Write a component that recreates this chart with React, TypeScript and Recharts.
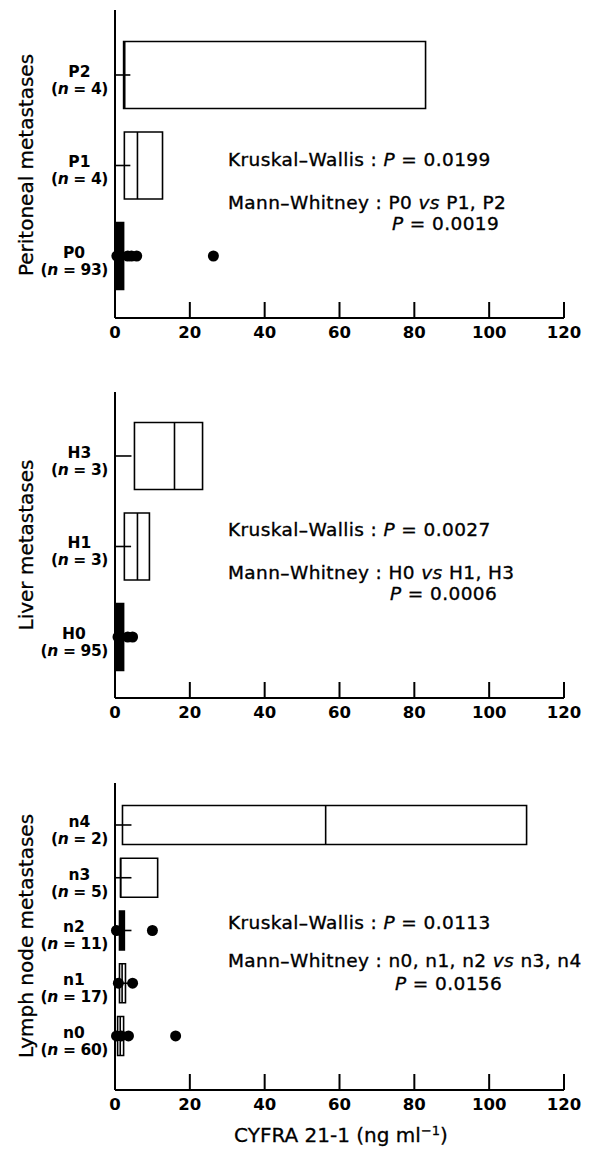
import { ComposedChart, ReferenceArea, ReferenceLine, Scatter, XAxis, YAxis } from "recharts";

const X_TICKS = [0, 20, 40, 60, 80, 100, 120];

// peritoneal metastases (bottom to top)
const P_GROUPS = ["P0", "P1", "P2"];
const P_COUNTS = [93, 4, 4];
const P_Q1 = [0, 2.5, 2.3];
const P_MEDIAN = [1.2, 6.0, 2.6];
const P_Q3 = [2.3, 12.7, 83.0];
const P_WHISKER = [4.2, 4.1, 4.1];
const P_OUTLIERS = [[0.5, 3.4, 4.4, 5.8, 26.3], [], []];

// liver metastases
const H_GROUPS = ["H0", "H1", "H3"];
const H_COUNTS = [95, 3, 3];
const H_Q1 = [0, 2.5, 5.2];
const H_MEDIAN = [1.2, 6.0, 15.9];
const H_Q3 = [2.3, 9.2, 23.4];
const H_WHISKER = [4.3, 4.3, 4.4];
const H_OUTLIERS = [[0.8, 3.4, 4.7], [], []];

// lymph node metastases
const N_GROUPS = ["n0", "n1", "n2", "n3", "n4"];
const N_COUNTS = [60, 17, 11, 5, 2];
const N_Q1 = [0.7, 1.2, 1.2, 1.5, 2.0];
const N_MEDIAN = [1.4, 1.9, 1.8, 1.5, 56.3];
const N_Q3 = [2.3, 2.8, 2.5, 11.4, 110.0];
const N_WHISKER = [4.4, 4.4, 4.4, 4.4, 4.4];
const N_OUTLIERS = [[0.4, 1.7, 3.6, 16.2], [0.9, 4.7], [0.4, 10.0], [], []];

const SOLID_BOXES = ["P0", "H0", "n2"];
const BOX_HALF = 0.37;
const FONT = "'DejaVu Sans', sans-serif";

type PanelProps = {
  groups: string[];
  counts: number[];
  q1: number[];
  median: number[];
  q3: number[];
  whisker: number[];
  outliers: number[][];
  top: number;
  height: number;
  marginTop: number;
  marginBottom: number;
  yDomain: [number, number];
};

function ValueTick(props: any) {
  const { x, y, payload } = props;
  return (
    <g>
      <line x1={x} x2={x} y1={y} y2={y - 16} stroke="#000" strokeWidth={2} />
      <text
        x={x}
        y={y + 20}
        textAnchor="middle"
        fontFamily={FONT}
        fontWeight="bold"
        fontSize={16.5}
        fill="#000"
      >
        {payload.value}
      </text>
    </g>
  );
}

function GroupTick(props: any) {
  const { x, y, payload, groups, counts } = props;
  const i = payload.value;
  const size = 15.5;
  const right = x - 7;
  const w = (3.0 + 0.696 * String(counts[i]).length) * size;
  return (
    <g fontFamily={FONT} fontWeight="bold" fontSize={size} fill="#000">
      <text x={right - w / 2} y={y + 2} textAnchor="middle">
        {groups[i]}
      </text>
      <text x={right} y={y + 19} textAnchor="end" letterSpacing={-0.4}>
        (<tspan fontStyle="italic">n</tspan> = {counts[i]})
      </text>
    </g>
  );
}

function Dot(props: any) {
  return <circle cx={props.cx} cy={props.cy} r={5.5} fill="#000" />;
}

function BoxPanel(p: PanelProps) {
  const positions = p.groups.map((_, i) => i);
  const dots = p.outliers.flatMap((vals, i) => vals.map((v) => ({ x: v, y: i })));
  return (
    <div style={{ position: "absolute", left: 0, top: p.top }}>
      <ComposedChart
        width={608}
        height={p.height}
        margin={{ top: p.marginTop, right: 44, bottom: p.marginBottom, left: 0 }}
      >
        <XAxis
          type="number"
          dataKey="x"
          domain={[0, 120]}
          ticks={X_TICKS}
          height={30}
          tickSize={0}
          tickMargin={0}
          tickLine={false}
          axisLine={{ stroke: "#000", strokeWidth: 2 }}
          tick={<ValueTick />}
        />
        <YAxis
          type="number"
          dataKey="y"
          domain={p.yDomain}
          ticks={positions}
          interval={0}
          width={115}
          tickSize={0}
          tickMargin={0}
          tickLine={false}
          axisLine={{ stroke: "#000", strokeWidth: 2 }}
          tick={<GroupTick groups={p.groups} counts={p.counts} />}
        />
        {p.groups.map((g, i) => (
          <ReferenceArea
            key={`box-${g}`}
            x1={p.q1[i]}
            x2={p.q3[i]}
            y1={i - BOX_HALF}
            y2={i + BOX_HALF}
            fill={SOLID_BOXES.includes(g) ? "#000" : "#fff"}
            fillOpacity={1}
            stroke="#000"
            strokeWidth={1.6}
          />
        ))}
        {p.groups.map((g, i) => (
          <ReferenceLine
            key={`med-${g}`}
            segment={[
              { x: p.median[i], y: i - BOX_HALF },
              { x: p.median[i], y: i + BOX_HALF },
            ]}
            stroke="#000"
            strokeWidth={1.6}
          />
        ))}
        {p.groups.map((g, i) => (
          <ReferenceLine
            key={`wh-${g}`}
            segment={[
              { x: 0, y: i },
              { x: p.whisker[i], y: i },
            ]}
            stroke="#000"
            strokeWidth={1.6}
          />
        ))}
        <Scatter data={dots} shape={<Dot />} isAnimationActive={false} />
      </ComposedChart>
    </div>
  );
}

function Annot({ x, y, children }: { x: number; y: number; children: any }) {
  return (
    <text
      x={x}
      y={y}
      fontFamily={FONT}
      fontSize={18.5}
      letterSpacing={0.4}
      fill="#000"
      stroke="#000"
      strokeWidth={0.35}
    >
      {children}
    </text>
  );
}

export default function App() {
  return (
    <div style={{ position: "absolute", left: 0, top: 0, width: 608, height: 1151, background: "#fff" }}>
      <BoxPanel
        groups={P_GROUPS}
        counts={P_COUNTS}
        q1={P_Q1}
        median={P_MEDIAN}
        q3={P_Q3}
        whisker={P_WHISKER}
        outliers={P_OUTLIERS}
        top={0}
        height={360}
        marginTop={10}
        marginBottom={12}
        yDomain={[-0.685, 2.718]}
      />
      <BoxPanel
        groups={H_GROUPS}
        counts={H_COUNTS}
        q1={H_Q1}
        median={H_MEDIAN}
        q3={H_Q3}
        whisker={H_WHISKER}
        outliers={H_OUTLIERS}
        top={360}
        height={380}
        marginTop={32}
        marginBottom={12}
        yDomain={[-0.674, 2.707]}
      />
      <BoxPanel
        groups={N_GROUPS}
        counts={N_COUNTS}
        q1={N_Q1}
        median={N_MEDIAN}
        q3={N_Q3}
        whisker={N_WHISKER}
        outliers={N_OUTLIERS}
        top={740}
        height={411}
        marginTop={43}
        marginBottom={31}
        yDomain={[-1.024, 4.796]}
      />
      <svg width={608} height={1151} style={{ position: "absolute", left: 0, top: 0, pointerEvents: "none" }}>
        <g fontFamily={FONT} fontSize={20} fill="#000" stroke="#000" strokeWidth={0.3} textAnchor="middle">
          <text transform="translate(33,165) rotate(-90)">Peritoneal metastases</text>
          <text transform="translate(33,545) rotate(-90)">Liver metastases</text>
          <text transform="translate(33,936) rotate(-90)">Lymph node metastases</text>
          <text x={341} y={1142}>
            CYFRA 21-1 (ng ml
            <tspan dy={-7} fontSize={13}>
              −1
            </tspan>
            <tspan dy={7}>)</tspan>
          </text>
        </g>
        <Annot x={228} y={166}>
          Kruskal–Wallis : <tspan fontStyle="italic">P</tspan> = 0.0199
        </Annot>
        <Annot x={228} y={209}>
          Mann–Whitney : P0 <tspan fontStyle="italic">vs</tspan> P1, P2
        </Annot>
        <Annot x={392} y={230}>
          <tspan fontStyle="italic">P</tspan> = 0.0019
        </Annot>
        <Annot x={228} y={536}>
          Kruskal–Wallis : <tspan fontStyle="italic">P</tspan> = 0.0027
        </Annot>
        <Annot x={228} y={579}>
          Mann–Whitney : H0 <tspan fontStyle="italic">vs</tspan> H1, H3
        </Annot>
        <Annot x={390} y={600}>
          <tspan fontStyle="italic">P</tspan> = 0.0006
        </Annot>
        <Annot x={228} y={929}>
          Kruskal–Wallis : <tspan fontStyle="italic">P</tspan> = 0.0113
        </Annot>
        <Annot x={228} y={967}>
          Mann–Whitney : n0, n1, n2 <tspan fontStyle="italic">vs</tspan> n3, n4
        </Annot>
        <Annot x={395} y={990}>
          <tspan fontStyle="italic">P</tspan> = 0.0156
        </Annot>
      </svg>
    </div>
  );
}
